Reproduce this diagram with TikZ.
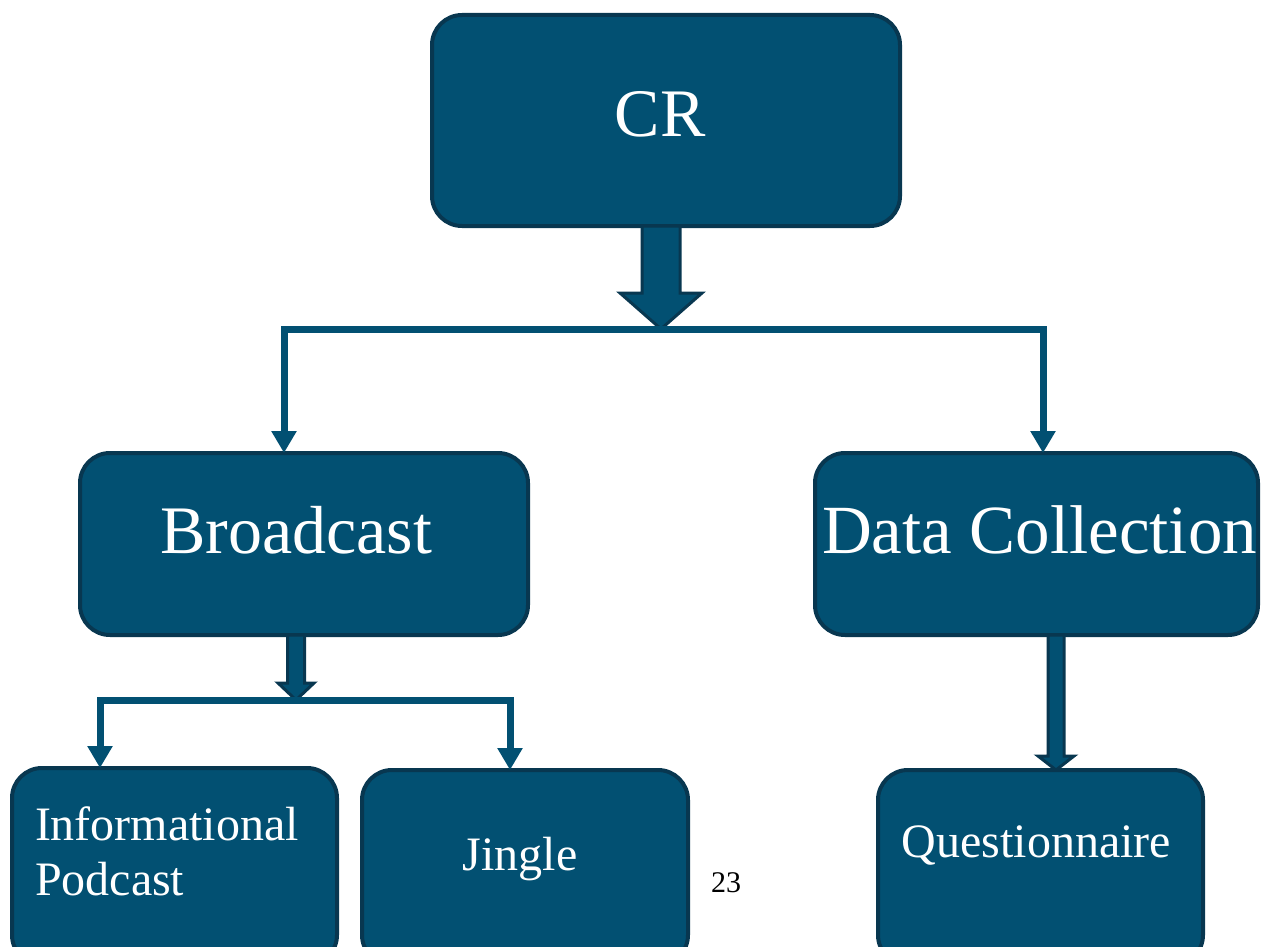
\documentclass[tikz,border=0pt]{standalone}
\usepackage{fontspec}
\setmainfont{Liberation Serif}
\usetikzlibrary{calc,arrows.meta}
\definecolor{crblue}{RGB}{2,80,114}
\definecolor{crline}{RGB}{8,55,80}
\newcommand{\bigtext}{\fontsize{68}{72}\selectfont}
\newcommand{\smalltext}{\fontsize{48}{52}\selectfont}
\tikzset{
  box/.style={draw=crline,fill=crblue,line width=4pt,rounded corners=30pt,
    text=white,inner sep=0pt,outer sep=0pt,anchor=north west},
  link/.style={draw=crblue,line width=7pt,-{Triangle[width=24pt,length=22pt]}},
  fatarrow/.style={draw=crline,fill=crblue,line width=3pt,line join=miter},
}
% start, tip, half shaft, half head, head length
\newcommand{\blockarrow}[5]{%
  \draw[fatarrow] let \p1=(#1), \p2=(#2) in
    (\x1-#3,\y1) -- (\x1+#3,\y1) -- (\x1+#3,\y2+#5) -- (\x1+#4,\y2+#5)
    -- (\x1,\y2) -- (\x1-#4,\y2+#5) -- (\x1-#3,\y2+#5) -- cycle;}

\begin{document}
\begin{tikzpicture}[x=1pt,y=-1pt]
\useasboundingbox (0,0) rectangle (1261,947);
\clip (0,0) rectangle (1261,947);
% boxes
\node[box,minimum width=468pt,minimum height=211pt,text depth=13pt,font=\bigtext] (cr) at (432,15) {CR\hspace*{12pt}};
\node[box,minimum width=448pt,minimum height=182pt,text depth=28pt,font=\bigtext] (bc) at (80,453) {Broadcast\hspace*{16pt}};
\node[box,minimum width=443pt,minimum height=182pt,text depth=29pt,font=\fontsize{69}{72}\selectfont] (dc) at (815,453) {\hspace*{6pt}Data Collection};
\node[box,minimum width=325pt,minimum height=197pt,text width=279pt,align=left,font=\fontsize{48}{55}\selectfont] (ip) at (12,768) {Informational\\Podcast\rule[-30pt]{0pt}{0pt}};
\node[box,minimum width=326pt,minimum height=195pt,text depth=28pt,font=\smalltext] (jg) at (362,770) {Jingle\hspace*{10pt}};
\node[box,minimum width=325pt,minimum height=195pt,text depth=52pt,font=\smalltext] (qn) at (878,770) {Questionnaire\hspace*{8pt}};
\node[font=\fontsize{30}{32}\selectfont] (pg) at (726,883) {23};
% connectors
\coordinate (split) at ($(cr.south)+(-5,103)$);
\blockarrow{$(cr.south)+(-5,0)$}{split}{19pt}{41pt}{36pt}
\draw[link] (split) -| ($(bc.north)+(-20,0)$);
\draw[link] (split) -| ($(dc.north)+(6.5,0)$);
\coordinate (split2) at ($(bc.south)+(-8,65)$);
\blockarrow{$(bc.south)+(-8,0)$}{split2}{8.5pt}{18pt}{17pt}
\draw[link] (split2) -| ($(ip.north)+(-74.5,0)$);
\draw[link] (split2) -| ($(jg.north)+(-15,0)$);
\blockarrow{$(dc.south)+(19.5,0)$}{$(qn.north)+(15.5,0)$}{8pt}{18pt}{14pt}
\end{tikzpicture}
\end{document}
